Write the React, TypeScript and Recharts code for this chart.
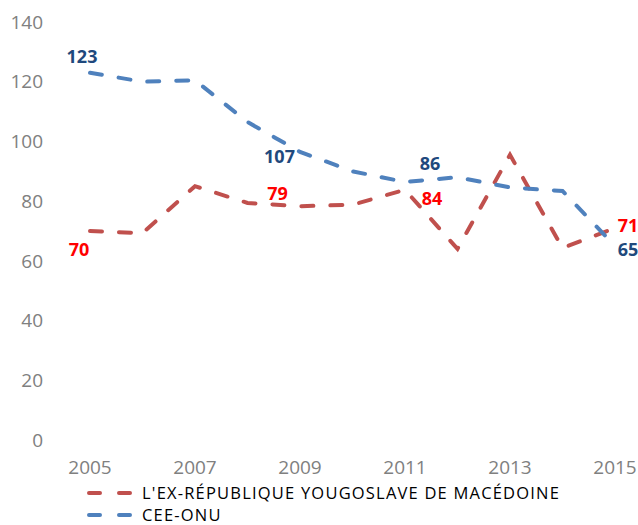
import React from "react";
import { LineChart, Line, XAxis, YAxis, Legend } from "recharts";

const years = [2005, 2006, 2007, 2008, 2009, 2010, 2011, 2012, 2013, 2014, 2015];
const macedoine = [70, 69.3, 85, 79.4, 78.3, 78.8, 83.8, 64, 95.5, 64.3, 71];
const ceeOnu = [123, 120, 120.5, 106.5, 96.5, 90, 86.4, 88, 84.6, 83.4, 65];
const macedoineLabels = ["70", null, null, "79", null, null, "84", null, null, null, "71"];
const ceeOnuLabels = ["123", null, null, "107", null, null, "86", null, null, null, "65"];
const xTicks = [2005, 2007, 2009, 2011, 2013, 2015];
const yTicks = [0, 20, 40, 60, 80, 100, 120, 140];

const RED = "#C0504D";
const BLUE = "#4F81BD";
const FONT = "'Open Sans', 'Noto Sans', sans-serif";

// where each label sits relative to its point (dx, dy)
const redOffsets: Record<number, [number, number]> = { 0: [-11, 18], 3: [30, -10], 6: [27, 8], 10: [13, -3] };
const blueOffsets: Record<number, [number, number]> = { 0: [-8, -17], 3: [32, 34], 6: [25, -19], 10: [13, 3] };

const data = years.map((y, i) => ({
  year: y,
  mk: macedoine[i],
  cee: ceeOnu[i],
}));

function makeLabel(texts: (string | null)[], offsets: Record<number, [number, number]>, color: string) {
  return (props: any) => {
    const { x, y, index } = props;
    const t = texts[index];
    if (!t) return null;
    const [dx, dy] = offsets[index] ?? [0, -15];
    return (
      <text
        key={`lbl-${color}-${index}`}
        x={x + dx}
        y={y + dy}
        textAnchor="middle"
        dominantBaseline="central"
        fill={color}
        fontSize={18}
        fontWeight="bold"
        fontFamily={FONT}
      >
        {t}
      </text>
    );
  };
}

const legendItems = [
  { name: "L'EX-RÉPUBLIQUE YOUGOSLAVE DE MACÉDOINE", color: RED },
  { name: "CEE-ONU", color: BLUE },
];

function LegendBox() {
  return (
    <div style={{ height: 44, position: "relative" }}>
      {legendItems.map((it, i) => (
        <div
          key={it.name}
          style={{ position: "absolute", left: 87, top: 1 + i * 22, height: 22, display: "flex", alignItems: "center" }}
        >
          <svg width={45} height={8} style={{ marginRight: 10 }}>
            <line x1={2} y1={4} x2={43} y2={4} stroke={it.color} strokeWidth={4} strokeLinecap="round" strokeDasharray="11 19" />
          </svg>
          <span
            style={{
              fontFamily: FONT,
              fontSize: 16.5,
              letterSpacing: 1.2,
              lineHeight: "22px",
              color: "#000",
              whiteSpace: "nowrap",
            }}
          >
            {it.name}
          </span>
        </div>
      ))}
    </div>
  );
}

export default function App() {
  return (
    <div style={{ position: "absolute", left: 0, top: 0, width: 638, height: 525, background: "#fff" }}>
      <LineChart width={638} height={525} data={data} margin={{ top: 22, right: 0, bottom: 0, left: 0 }}>
        <XAxis
          dataKey="year"
          type="number"
          domain={[2005, 2015]}
          ticks={xTicks}
          padding={{ left: 40, right: 23 }}
          axisLine={false}
          tickLine={false}
          tickSize={0}
          tickMargin={21}
          height={41}
          tick={{ fill: "#808080", fontSize: 19, fontFamily: FONT }}
        />
        <YAxis
          domain={[0, 140]}
          ticks={yTicks}
          width={50}
          axisLine={false}
          tickLine={false}
          tickSize={0}
          tickMargin={7}
          tick={{ fill: "#808080", fontSize: 19, fontFamily: FONT }}
        />
        <Legend verticalAlign="bottom" height={44} content={() => <LegendBox />} />
        <Line
          dataKey="mk"
          name="L'EX-RÉPUBLIQUE YOUGOSLAVE DE MACÉDOINE"
          stroke={RED}
          strokeWidth={4}
          strokeDasharray="12 17"
          strokeLinecap="round"
          dot={false}
          label={makeLabel(macedoineLabels, redOffsets, "#FF0000")}
          isAnimationActive={false}
        />
        <Line
          dataKey="cee"
          name="CEE-ONU"
          stroke={BLUE}
          strokeWidth={4}
          strokeDasharray="12 17"
          strokeLinecap="round"
          dot={false}
          label={makeLabel(ceeOnuLabels, blueOffsets, "#1F497D")}
          isAnimationActive={false}
        />
      </LineChart>
    </div>
  );
}
